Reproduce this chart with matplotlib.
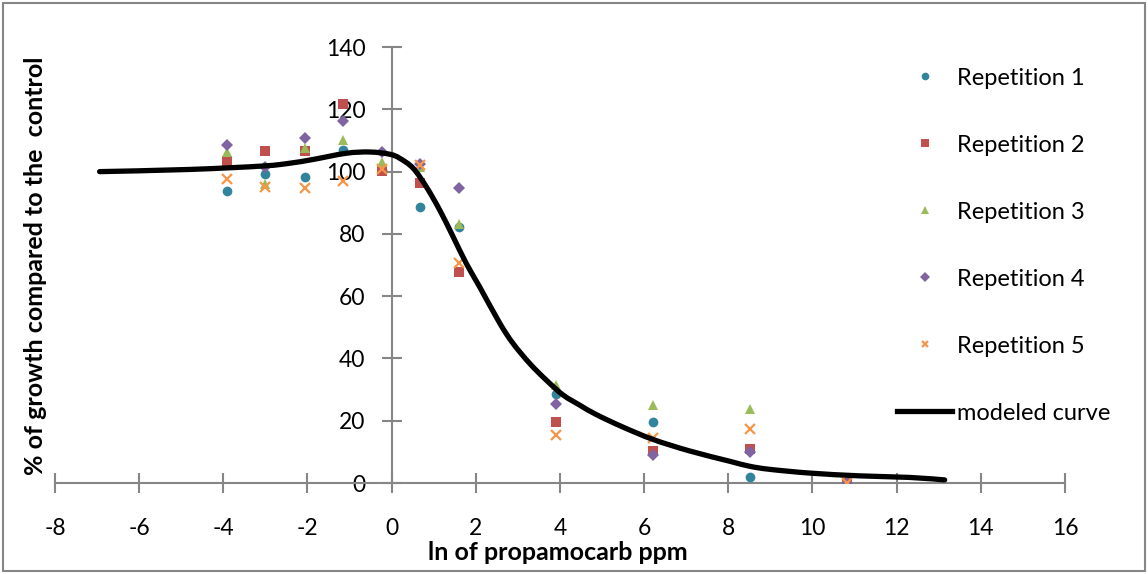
import matplotlib
matplotlib.use("Agg")
import numpy as np
import matplotlib.pyplot as plt
from matplotlib.lines import Line2D
from matplotlib.patches import Rectangle, PathPatch
from matplotlib.path import Path

plt.rcParams['font.family'] = ['Lato', 'DejaVu Sans']
plt.rcParams['axes.unicode_minus'] = False

# ln of concentration (ppm)
ln_conc = [-3.92, -3.0, -2.07, -1.16, -0.24, 0.67, 1.59, 3.91, 6.21, 8.52, 10.82]

rep1 = [93.8, 99.2, 98.4, 106.9, 100.5, 88.7, 82.1, 28.6, 19.5, 1.8, 0.0]
rep2 = [103.5, 106.7, 106.7, 121.7, 100.2, 96.2, 67.8, 19.6, 10.3, 11.0, 0.0]
rep3 = [106.2, 95.9, 107.5, 110.1, 103.2, 101.6, 83.2, 31.5, 24.9, 23.9, 0.0]
rep4 = [108.5, 101.4, 110.7, 116.2, 106.4, 102.3, 94.8, 25.4, 8.9, 10.0, 0.0]
rep5 = [97.5, 95.1, 94.8, 97.0, 100.7, 102.1, 70.5, 15.3, 14.6, 17.4, 0.0]

# fitted dose-response curve
curve_x = [-6.94, -4.8, -3.06, -2.42, -1.87, -1.08, -0.52, -0.05, 0.19, 0.51, 0.82,
           1.14, 1.46, 1.77, 2.09, 2.57, 2.88, 3.28, 3.67, 4.07, 4.47, 4.86, 5.49,
           6.21, 7.08, 8.03, 8.5, 8.98, 9.93, 11.12, 12.3, 13.14]
curve_y = [100.0, 100.7, 101.8, 102.7, 103.9, 105.9, 106.3, 105.6, 104.3, 101.1, 95.2,
           87.7, 79.1, 70.6, 63.0, 51.3, 44.9, 38.4, 33.1, 28.3, 25.0, 22.0, 18.0,
           14.0, 10.3, 7.0, 5.4, 4.4, 3.2, 2.3, 1.8, 1.0]

series = [
    ("Repetition 1", rep1, 'o', '#31849B', 7),
    ("Repetition 2", rep2, 's', '#C0504D', 7),
    ("Repetition 3", rep3, '^', '#9BBB59', 7.5),
    ("Repetition 4", rep4, 'D', '#8064A2', 6.5),
    ("Repetition 5", rep5, 'x', '#F79646', 6.5),
]


def smooth_path(xs, ys):
    # Catmull-Rom through the points, as cubic Bezier segments
    pts = np.column_stack([xs, ys])
    n = len(pts)
    verts = [pts[0]]
    codes = [Path.MOVETO]
    for i in range(n - 1):
        p0 = pts[i - 1] if i > 0 else pts[i]
        p1 = pts[i]
        p2 = pts[i + 1]
        p3 = pts[i + 2] if i + 2 < n else pts[i + 1]
        verts += [p1 + (p2 - p0) / 6, p2 - (p3 - p1) / 6, p2]
        codes += [Path.CURVE4] * 3
    return Path(verts, codes)


fig = plt.figure(figsize=(11.48, 5.74), dpi=100)
ax = fig.add_axes([0.0479, 0.1585, 0.8798, 0.7595])

handles = []
for label, vals, mk, col, ms in series:
    mew = 1.6 if mk == 'x' else 0
    ax.plot(ln_conc, vals, linestyle='none', marker=mk, color=col, markersize=ms,
            markeredgewidth=mew, zorder=3)
    h = Line2D([], [], linestyle='none', marker=mk, color=col, markersize=ms - 1.5,
               markeredgewidth=mew)
    handles.append((h, label))

ax.add_patch(PathPatch(smooth_path(curve_x, curve_y), facecolor='none', edgecolor='black',
                       linewidth=3.8, capstyle='round', zorder=4))
handles.append((Line2D([], [], color='black', linewidth=3.8), "modeled curve"))

ax.set_xlim(-8, 16)
ax.set_ylim(0, 140)
ax.set_xticks(range(-8, 17, 2))
ax.set_yticks(range(0, 141, 20))

for side in ['top', 'right']:
    ax.spines[side].set_visible(False)
ax.spines['left'].set_position(('data', 0))
ax.spines['bottom'].set_position(('data', 0))
for side in ['left', 'bottom']:
    ax.spines[side].set_color('#868686')
    ax.spines[side].set_linewidth(1.5)

ax.tick_params(axis='both', direction='inout', length=14, width=1.5, color='#868686',
               labelsize=16.5, labelcolor='black')
ax.tick_params(axis='x', pad=18)
ax.tick_params(axis='y', pad=12)

fig.text(0.486, 0.037, "ln of propamocarb ppm", ha='center', va='center',
         fontsize=18, fontweight='bold')
fig.text(0.031, 0.537, "% of growth compared to the  control", ha='center', va='center',
         rotation=90, fontsize=18, fontweight='bold')

fig.legend([h for h, _ in handles], [l for _, l in handles], loc='upper left',
           bbox_to_anchor=(0.763, 0.9194), frameon=False, fontsize=17,
           labelspacing=1.95, handlelength=2.33, handletextpad=0.2)

fig.patches.append(Rectangle((0.003, 0.005), 0.994, 0.99, transform=fig.transFigure,
                             fill=False, edgecolor='#868686', linewidth=1.5))

fig.savefig("out.png", dpi=100)
